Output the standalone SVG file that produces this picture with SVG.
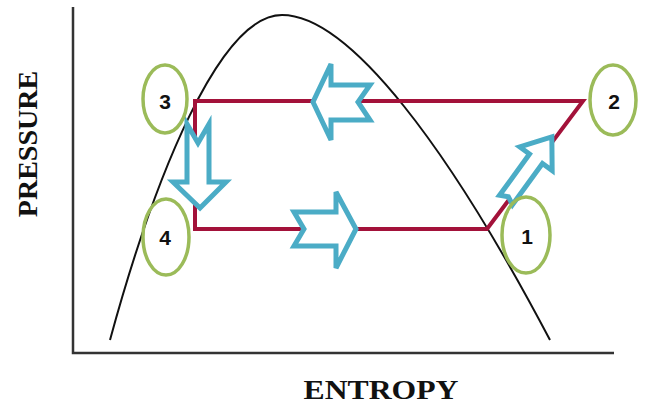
<svg xmlns="http://www.w3.org/2000/svg" width="645" height="406" viewBox="0 0 645 406">
<style>
.axis{fill:none;stroke:#333;stroke-width:2.5}
.dome{fill:none;stroke:#111;stroke-width:2}
.cycle{fill:none;stroke:#A3123A;stroke-width:4;stroke-linejoin:miter}
.arr{fill:#fff;stroke:#4BACC6;stroke-width:5;stroke-linejoin:miter}
.st{fill:none;stroke:#9BBB59;stroke-width:3.5}
.num{font-family:"Liberation Sans",Arial,sans-serif;font-weight:bold;font-size:21px;fill:#111;text-anchor:middle}
.lbl{font-family:"Liberation Serif","Times New Roman",serif;font-weight:bold;font-size:28px;fill:#111;text-anchor:middle}
</style>
<rect width="645" height="406" fill="#fff"/>
<g id="axes">
<polyline class="axis" points="73,7 73,353 614,353"/>
<text class="lbl" transform="translate(37,144) rotate(-90)">PRESSURE</text>
<text class="lbl" x="381" y="399" textLength="155" lengthAdjust="spacingAndGlyphs">ENTROPY</text>
</g>
<g id="dome">
<path class="dome" d="M110,340 C155,175 220,15 282,15 C350,15 450,150 550,340"/>
</g>
<g id="connectors">
<path class="cycle" d="M195,229 L195,101 L583,101 L487,229 Z"/>
<path id="arrow-3-4" class="arr" d="M187,124 L198,143 L209,124 L209,182 L226,182 L200,208 L173,182 L187,182 Z"/>
<path id="arrow-4-1" class="arr" d="M294,212 L336,212 L336,192 L356,229 L336,268 L336,246 L294,246 L304,229 Z"/>
<path id="arrow-2-3" class="arr" d="M370,85 L331,85 L331,64 L313,102 L331,140 L331,120 L370,120 L358,102 Z"/>
<path id="arrow-1-2" class="arr" transform="translate(506,200) rotate(-54)" d="M0,-8 L51,-8 L51,-20 L78,0 L51,20 L51,8 L0,8 L4,0 Z"/>
</g>
<g id="state-1">
<ellipse class="st" cx="526" cy="235" rx="24" ry="38"/>
<text class="num" x="527" y="244">1</text>
</g>
<g id="state-2">
<ellipse class="st" cx="613" cy="100" rx="23" ry="35"/>
<text class="num" x="614" y="109">2</text>
</g>
<g id="state-3">
<ellipse class="st" cx="165" cy="99" rx="22" ry="34"/>
<text class="num" x="165" y="109">3</text>
</g>
<g id="state-4">
<ellipse class="st" cx="166" cy="237" rx="23" ry="38"/>
<text class="num" x="165" y="245">4</text>
</g>
</svg>
